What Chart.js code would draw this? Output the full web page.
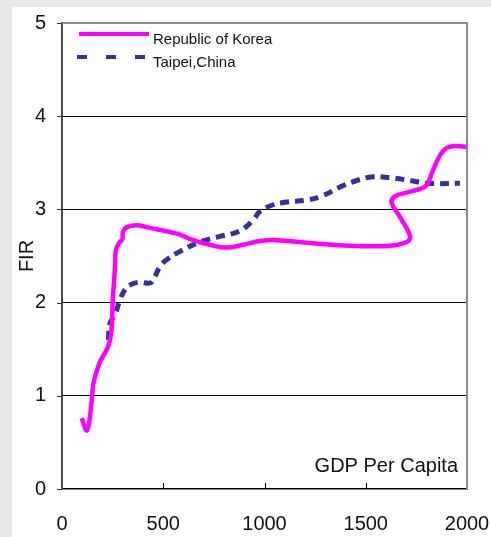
<!DOCTYPE html>
<html>
<head>
<meta charset="utf-8">
<script src="https://cdn.jsdelivr.net/npm/chart.js@4.4.1/dist/chart.umd.min.js"></script>
<style>
  html, body { margin: 0; padding: 0; background: #e7e8ea; width: 491px; height: 537px; overflow: hidden; }
  #panel { position: absolute; left: 12px; top: 7px; width: 479px; height: 530px; background: #fff; }
</style>
</head>
<body>
<div id="panel"><canvas id="fir"></canvas></div>
<script>
// ---------------------------------------------------------------------
// Data: FIR against GDP per capita
// ---------------------------------------------------------------------
const seriesNames = ['Republic of Korea', 'Taipei,China'];

const koreaGdp = [97, 124, 147, 155, 185, 226, 243, 251, 262, 266, 282, 298, 301, 320, 369, 418, 484,
  548, 583, 647, 731, 813, 894, 978, 1060, 1225, 1422, 1620, 1702, 1719, 1669, 1628, 1644, 1702,
  1768, 1801, 1832, 1867, 1900, 1949, 1999];
const koreaFir = [0.76, 0.63, 0.95, 1.13, 1.35, 1.52, 1.67, 2.03, 2.39, 2.56, 2.64, 2.68, 2.76, 2.81,
  2.83, 2.81, 2.78, 2.75, 2.73, 2.67, 2.62, 2.59, 2.62, 2.66, 2.67, 2.64, 2.61, 2.61, 2.65, 2.71,
  2.92, 3.07, 3.14, 3.18, 3.22, 3.26, 3.42, 3.58, 3.66, 3.68, 3.67];

const taipeiGdp = [229, 237, 262, 286, 311, 336, 385, 435, 459, 484, 517, 583, 681, 780, 879, 945,
  978, 1043, 1110, 1208, 1290, 1373, 1455, 1537, 1620, 1719, 1801, 1965];
const taipeiFir = [1.60, 1.78, 1.87, 2.03, 2.14, 2.19, 2.22, 2.21, 2.28, 2.39, 2.46, 2.55, 2.65,
  2.71, 2.77, 2.89, 2.98, 3.05, 3.08, 3.10, 3.15, 3.24, 3.31, 3.35, 3.34, 3.31, 3.28, 3.28];

const xTicks = [0, 500, 1000, 1500, 2000];
const yTicks = [0, 1, 2, 3, 4, 5];

const FONT = '"Liberation Sans", Arial, sans-serif';

const toPoints = (xs, ys) => xs.map((x, i) => ({ x, y: ys[i] }));

/**
 * Frame, short tick marks (x inward, y outward), legend inside the plot
 * and the "GDP Per Capita" caption.
 */
const decorations = {
  id: 'decorations',
  beforeDatasetsDraw(chart) {
    const { ctx, chartArea: a, scales } = chart;
    ctx.save();
    // top + right frame in grey
    ctx.strokeStyle = '#8c8c8c';
    ctx.lineWidth = 2;
    ctx.beginPath();
    ctx.moveTo(a.left, a.top);
    ctx.lineTo(a.right, a.top);
    ctx.lineTo(a.right, a.bottom);
    ctx.stroke();
    // inward tick marks on the x axis
    ctx.strokeStyle = '#000';
    ctx.lineWidth = 1;
    xTicks.slice(1, -1).forEach(v => {
      const px = Math.round(scales.x.getPixelForValue(v)) + 0.5;
      ctx.beginPath();
      ctx.moveTo(px, a.bottom);
      ctx.lineTo(px, a.bottom - 6);
      ctx.stroke();
    });
    // outward tick marks on the y axis
    ctx.strokeStyle = '#333';
    yTicks.forEach(v => {
      const py = Math.round(scales.y.getPixelForValue(v)) + 0.5;
      ctx.beginPath();
      ctx.moveTo(a.left, py);
      ctx.lineTo(a.left - 5, py);
      ctx.stroke();
    });
    ctx.restore();
  },
  afterDraw(chart) {
    const { ctx, chartArea: a } = chart;
    ctx.save();
    // legend
    chart.data.datasets.forEach((ds, i) => {
      const ly = a.top + 11 + i * 23;
      ctx.strokeStyle = ds.borderColor;
      ctx.lineWidth = 4;
      ctx.setLineDash(i === 0 ? [] : [10, 19]);
      ctx.beginPath();
      ctx.moveTo(a.left + (i === 0 ? 17 : 15), ly);
      ctx.lineTo(a.left + 87, ly);
      ctx.stroke();
      ctx.setLineDash([]);
      ctx.fillStyle = '#111';
      ctx.font = '15px ' + FONT;
      ctx.textBaseline = 'middle';
      ctx.textAlign = 'left';
      ctx.fillText(ds.label, a.left + 91, ly + 6);
    });
    // caption
    ctx.font = '20px ' + FONT;
    ctx.fillStyle = '#111';
    ctx.textAlign = 'right';
    ctx.textBaseline = 'middle';
    ctx.fillText('GDP Per Capita', a.right - 9, a.bottom - 23);
    ctx.restore();
  },
};

new Chart(document.getElementById('fir'), {
  type: 'line',
  data: {
    datasets: [
      {
        label: seriesNames[0],
        data: toPoints(koreaGdp, koreaFir),
        borderColor: '#ff00ff',
        borderWidth: 4.5,
        tension: 0.4,
        pointRadius: 0,
        fill: false,
      },
      {
        label: seriesNames[1],
        data: toPoints(taipeiGdp, taipeiFir),
        borderColor: '#333399',
        borderWidth: 5,
        borderDash: [9, 6],
        tension: 0.4,
        pointRadius: 0,
        fill: false,
      },
    ],
  },
  plugins: [decorations],
  options: {
    responsive: true,
    maintainAspectRatio: false,
    animation: false,
    layout: { padding: { left: 0, top: 16, right: 24, bottom: 0 } },
    plugins: { legend: { display: false }, tooltip: { enabled: false } },
    scales: {
      x: {
        type: 'linear',
        min: 0,
        max: 2000,
        afterFit: s => { s.height = 48; },
        afterBuildTicks: s => { s.ticks = xTicks.map(value => ({ value })); },
        ticks: {
          color: '#111', font: { family: FONT, size: 20 }, padding: 0, maxRotation: 0,
          callback: v => String(v),
        },
        grid: { display: true, drawOnChartArea: false, drawTicks: true, tickLength: 23, tickColor: 'rgba(0,0,0,0)' },
        border: { color: '#000', width: 1.5 },
      },
      y: {
        min: 0,
        max: 5,
        afterFit: s => { s.width = 50; },
        afterBuildTicks: s => { s.ticks = yTicks.map(value => ({ value })); },
        ticks: { color: '#111', font: { family: FONT, size: 20 }, padding: 0, callback: v => String(v) },
        grid: {
          color: c => (c.tick.value === 0 || c.tick.value === 5) ? 'rgba(0,0,0,0)' : '#000',
          tickColor: 'rgba(0,0,0,0)',
          tickLength: 16,
          lineWidth: 1,
        },
        border: { color: '#4a4a4a', width: 2 },
        title: { display: true, text: 'FIR', color: '#111', font: { family: FONT, size: 20 }, padding: 3 },
      },
    },
  },
});
</script>
</body>
</html>
